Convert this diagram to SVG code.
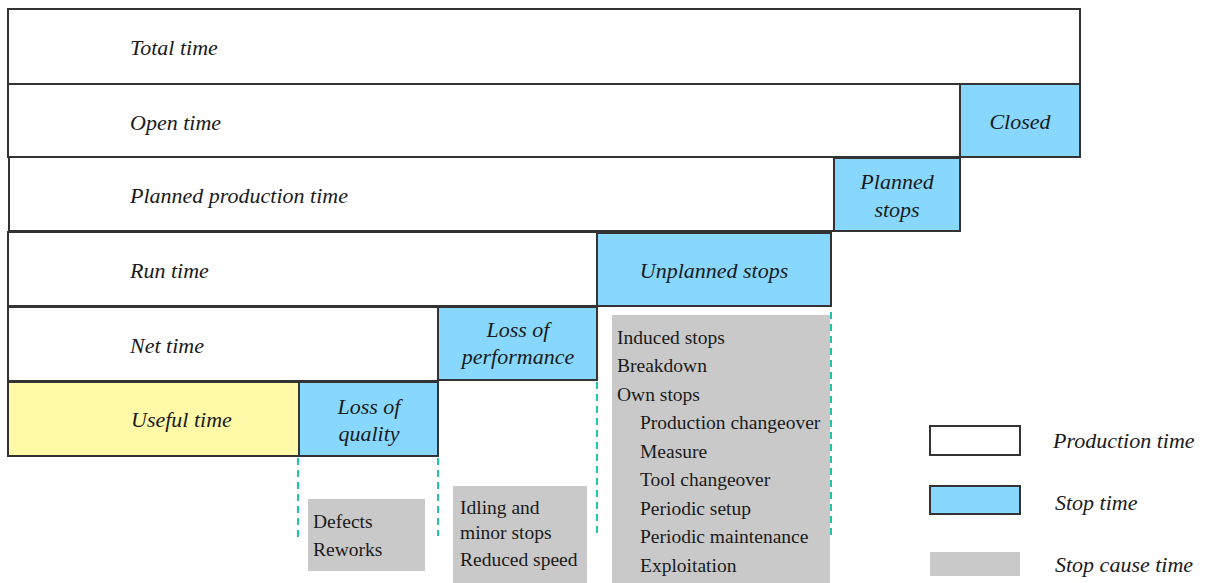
<svg xmlns="http://www.w3.org/2000/svg" width="1212" height="583" viewBox="0 0 1212 583">
<rect width="1212" height="583" fill="#ffffff"/>
<g id="connectors" stroke="#22c3a6" stroke-width="2" stroke-dasharray="7,5" fill="none">
<line x1="298" y1="458" x2="298" y2="540"/>
<line x1="438" y1="458" x2="438" y2="536"/>
<line x1="597" y1="382" x2="597" y2="536"/>
<line x1="831" y1="300" x2="831" y2="540"/>
</g>
<g font-family="Liberation Serif" font-style="italic" font-size="22" stroke="#333333" stroke-width="2">
<g id="total"><rect fill="#ffffff" x="8" y="9" width="1072" height="75"/><text stroke="none" fill="#1a1a1a" x="130" y="55">Total time</text></g>
<g id="open"><rect fill="#ffffff" x="8" y="84" width="952" height="73"/><text stroke="none" fill="#1a1a1a" x="130" y="130">Open time</text></g>
<g id="closed"><rect fill="#87d7fe" x="960" y="84" width="120" height="73"/><text stroke="none" fill="#1a1a1a" text-anchor="middle" x="1020" y="129">Closed</text></g>
<g id="planned"><rect fill="#ffffff" x="9" y="157" width="825" height="74"/><text stroke="none" fill="#1a1a1a" x="130" y="203">Planned production time</text></g>
<g id="plannedstops"><rect fill="#87d7fe" x="834" y="158" width="126" height="73"/><text stroke="none" fill="#1a1a1a" text-anchor="middle" x="897" y="189">Planned</text><text stroke="none" fill="#1a1a1a" text-anchor="middle" x="897" y="217">stops</text></g>
<g id="run"><rect fill="#ffffff" x="8" y="232" width="589" height="74"/><text stroke="none" fill="#1a1a1a" x="130" y="278">Run time</text></g>
<g id="unplanned"><rect fill="#87d7fe" x="597" y="233" width="234" height="73"/><text stroke="none" fill="#1a1a1a" text-anchor="middle" x="714" y="278">Unplanned stops</text></g>
<g id="net"><rect fill="#ffffff" x="8" y="307" width="430" height="74"/><text stroke="none" fill="#1a1a1a" x="130" y="353">Net time</text></g>
<g id="lossperf"><rect fill="#87d7fe" x="438" y="307" width="159" height="73"/><text stroke="none" fill="#1a1a1a" text-anchor="middle" x="518" y="337">Loss of</text><text stroke="none" fill="#1a1a1a" text-anchor="middle" x="518" y="364">performance</text></g>
<g id="useful"><rect fill="#fff9a8" x="8" y="382" width="291" height="74"/><text stroke="none" fill="#1a1a1a" x="131" y="427">Useful time</text></g>
<g id="lossqual"><rect fill="#87d7fe" x="299" y="382" width="139" height="74"/><text stroke="none" fill="#1a1a1a" text-anchor="middle" x="369" y="414">Loss of</text><text stroke="none" fill="#1a1a1a" text-anchor="middle" x="369" y="441">quality</text></g>
</g>
<g font-family="Liberation Serif" font-size="19.5" fill="#1a1a1a">
<g id="causes-quality"><rect fill="#c9c9c9" x="308" y="499" width="117" height="72"/><text x="313" y="528">Defects</text><text x="313" y="556">Reworks</text></g>
<g id="causes-perf"><rect fill="#c9c9c9" x="453" y="486" width="134" height="97"/><text x="460" y="514">Idling and</text><text x="460" y="539">minor stops</text><text x="460" y="566">Reduced speed</text></g>
<g id="causes-unplanned"><rect fill="#c9c9c9" x="612" y="315" width="218" height="268"/>
<text x="617" y="344">Induced stops</text>
<text x="617" y="372">Breakdown</text>
<text x="617" y="401">Own stops</text>
<text x="640" y="429">Production changeover</text>
<text x="640" y="458">Measure</text>
<text x="640" y="486">Tool changeover</text>
<text x="640" y="515">Periodic setup</text>
<text x="640" y="543">Periodic maintenance</text>
<text x="640" y="572">Exploitation</text>
</g>
</g>
<g id="legend" font-family="Liberation Serif" font-style="italic" font-size="22" fill="#1a1a1a">
<rect fill="#ffffff" stroke="#333333" stroke-width="2" x="930" y="426" width="90" height="29"/><text x="1053" y="448">Production time</text>
<rect fill="#87d7fe" stroke="#333333" stroke-width="2" x="930" y="486" width="90" height="28"/><text x="1055" y="510">Stop time</text>
<rect fill="#c9c9c9" x="930" y="552" width="90" height="24"/><text x="1055" y="572">Stop cause time</text>
</g>
</svg>
